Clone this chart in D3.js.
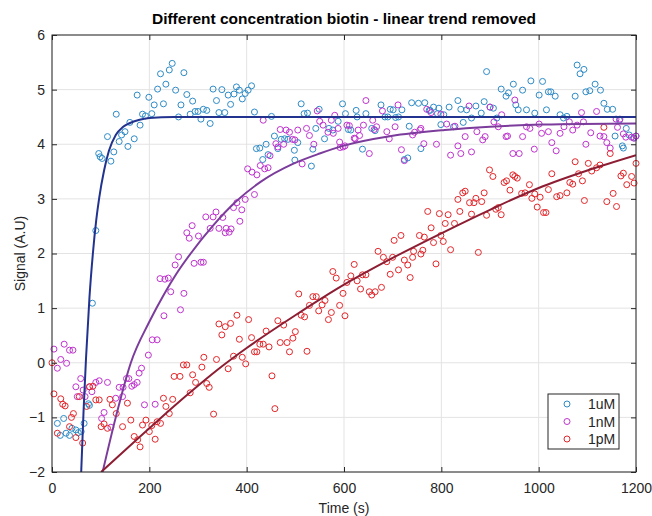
<!DOCTYPE html>
<html>
<head>
<meta charset="utf-8">
<script src="https://cdn.jsdelivr.net/npm/d3@7"></script>
<style>
  body { margin: 0; background: #fff; }
  svg { font-family: "Liberation Sans", Arial, Helvetica, sans-serif; }
</style>
</head>
<body>
<div id="chart"></div>
<script>
// values (time in s, signal in A.U)
const seriesNames = ["1uM", "1nM", "1pM"];

const uMTime = [11,17,24,29,36,41,49,54,60,66,75,77,83,90,96,99,103,114,121,127,132,138,143,150,156,160,169,175,181,186,192,199,205,210,217,223,229,234,241,247,254,260,265,271,277,284,289,294,300,306,311,318,325,331,338,343,349,355,362,367,374,379,385,391,397,403,410,416,420,427,433,440,444,451,457,464,471,478,485,498,499,505,512,518,525,533,536,542,549,560,569,577,588,597,603,609,614,625,627,638,645,657,664,676,684,690,695,701,706,712,719,724,731,734,739,753,758,766,775,777,784,792,795,799,805,816,825,834,840,845,852,862,871,882,888,893,900,907,914,923,933,938,948,953,958,967,975,984,992,1001,1008,1016,1020,1025,1034,1044,1051,1058,1075,1079,1085,1093,1097,1105,1116,1127,1134,1141,1152,1157,1166,1172,1174,1180,1186,1195,1200];
const uMSignal = [-1.11,-1.33,-1.02,-1.29,-1.33,-1.20,-1.23,-1.28,-1.26,-1.11,-0.75,-0.78,1.09,2.42,3.83,3.77,3.74,4.14,3.69,3.86,4.55,4.05,4.17,4.23,3.96,4.40,4.10,4.90,4.35,4.55,4.52,4.86,4.56,4.72,5.01,5.29,4.74,5.10,5.36,5.48,4.99,4.50,4.72,5.31,4.91,4.55,4.79,4.60,4.60,4.46,4.64,4.62,4.38,5.01,4.80,4.58,5.00,4.58,4.90,4.73,4.92,5.05,4.99,4.83,4.93,4.99,5.07,4.59,3.92,3.93,3.72,4.00,3.81,4.51,4.15,3.92,4.09,4.10,4.09,3.89,3.71,4.03,4.74,4.56,4.57,3.60,3.91,4.29,4.64,4.10,4.29,4.26,4.42,4.74,4.56,4.27,4.26,4.62,4.50,3.91,4.56,4.29,4.25,4.72,4.50,4.50,4.64,4.63,4.49,4.50,4.63,3.72,3.75,4.33,4.76,4.75,3.92,4.76,4.62,4.62,4.68,4.56,4.66,4.36,4.54,4.68,4.32,4.80,4.64,4.40,4.63,4.48,4.70,4.57,4.78,5.33,4.68,4.66,4.48,5.01,4.88,4.94,5.10,4.72,4.63,4.99,4.63,5.16,4.57,4.90,5.15,4.63,4.96,4.96,4.88,4.54,4.48,4.51,4.88,5.45,5.29,5.37,4.96,4.98,5.10,4.99,4.75,4.64,4.64,4.15,4.44,3.97,3.93,4.29,4.17,4.12,4.15];

const nMTime = [4,11,18,25,30,36,43,49,52,59,64,68,77,82,90,97,102,107,114,121,131,138,145,146,153,158,164,169,175,179,184,190,198,206,212,216,222,230,232,239,244,253,260,264,271,277,282,288,292,301,306,311,316,325,331,337,343,351,356,358,364,368,373,380,386,390,397,402,411,416,421,428,434,437,444,448,460,464,469,476,481,488,494,499,505,514,523,529,538,545,550,557,567,574,578,581,588,591,592,598,602,606,611,621,623,629,632,640,645,652,659,662,667,679,688,693,705,711,718,724,741,745,756,758,764,770,779,790,799,811,819,828,834,840,849,857,862,873,885,890,900,908,917,924,933,936,947,951,960,967,975,982,991,1001,1006,1020,1027,1036,1044,1052,1063,1070,1079,1088,1092,1097,1107,1119,1126,1134,1140,1147,1159,1162,1167,1174,1179,1191,1196,1200];
const nMSignal = [0.25,-0.10,0.06,0.34,-0.01,0.23,0.23,-0.44,-0.62,-0.29,-0.50,-0.62,-0.44,-0.53,-0.36,-0.33,-1.02,-0.91,-0.36,-1.18,-0.65,-0.45,-0.62,-0.45,-0.29,-0.29,-0.43,-0.40,-0.36,-0.19,-0.10,-0.77,0.14,0.42,-0.76,0.42,1.54,0.86,1.53,1.55,1.30,1.79,1.94,0.97,1.27,2.38,2.28,2.51,1.82,2.32,1.84,1.84,2.67,2.46,2.67,2.76,2.46,2.66,2.38,2.46,2.39,2.45,2.84,2.93,2.59,2.80,2.99,3.55,3.49,3.08,3.44,3.61,4.44,3.55,3.57,3.79,4.01,3.95,4.27,4.00,4.26,4.22,4.09,4.08,4.26,3.64,4.29,4.16,4.00,4.61,4.42,4.35,4.22,4.44,4.20,4.53,4.29,4.04,3.94,3.95,3.97,4.35,4.34,4.11,4.10,4.26,4.16,4.35,4.80,3.83,4.44,4.27,4.32,4.61,4.23,4.10,4.32,4.72,3.90,3.70,4.17,4.22,4.26,4.29,4.01,4.64,4.58,4.00,4.55,4.37,3.80,4.33,3.97,3.83,4.14,4.70,3.86,4.23,4.08,4.14,4.68,4.41,4.32,4.54,4.14,4.15,3.83,4.81,3.83,4.14,4.32,4.29,3.91,4.37,4.20,4.23,4.03,3.88,4.20,4.32,4.41,4.26,4.35,4.58,4.41,4.00,4.21,4.60,4.15,4.14,4.03,3.93,4.46,4.31,4.46,4.19,4.13,4.13,4.11,4.15];

const pMTime = [0,4,11,18,22,27,36,40,44,49,56,63,71,77,84,90,97,101,107,114,119,124,132,145,155,162,169,176,181,186,193,200,205,212,216,223,229,234,241,248,251,263,270,277,284,289,295,308,312,318,323,332,338,343,349,356,362,367,373,380,385,391,398,404,410,416,421,427,434,440,446,452,458,464,469,476,483,488,495,500,507,512,519,524,529,536,543,548,555,561,568,574,577,584,591,598,602,606,614,621,627,634,638,645,652,657,664,670,677,681,688,695,700,703,712,717,724,731,736,741,743,755,758,762,765,772,779,784,789,796,799,804,808,814,819,827,834,838,844,849,858,862,867,871,876,883,888,893,899,906,912,917,923,929,934,941,947,951,956,965,972,981,986,992,997,1003,1010,1015,1020,1027,1037,1044,1058,1064,1070,1075,1082,1090,1094,1102,1109,1119,1126,1134,1140,1147,1153,1160,1169,1174,1181,1191,1196,1200];
const pMSignal = [0.00,-0.57,-1.29,-0.66,-0.76,-0.79,-1.17,-1.00,-0.93,-1.37,-0.62,-1.47,-0.80,-0.44,-0.43,-0.68,-0.68,-1.17,-1.12,-1.20,-0.67,-0.77,-0.93,-1.17,-0.74,-1.05,-1.35,-1.41,-1.54,-1.14,-1.05,-1.26,-1.15,-1.40,-1.08,-1.11,-0.65,-0.80,-0.93,-0.67,-0.25,-0.25,-0.04,-0.04,-0.55,-0.22,-0.36,-0.08,0.10,-0.38,-0.45,-0.94,0.06,0.71,0.51,0.66,-0.11,0.72,0.12,0.87,0.43,0.10,-0.02,0.79,0.46,0.20,0.20,0.34,0.34,0.58,0.29,-0.24,-0.84,0.77,0.37,0.69,0.37,0.20,0.45,0.57,1.26,0.87,0.84,0.21,1.05,1.21,1.21,0.95,1.06,1.14,0.79,0.92,1.67,1.55,1.05,1.27,0.86,1.47,1.59,1.80,1.50,1.35,1.61,1.61,1.30,1.24,1.30,2.04,1.38,1.93,1.85,1.62,1.93,2.24,1.70,2.33,1.88,1.79,1.56,1.93,2.04,2.33,1.99,2.06,2.30,2.77,2.47,2.20,1.81,2.73,2.33,2.22,2.55,2.71,2.07,2.55,2.99,2.77,3.11,3.14,2.93,2.72,2.93,3.01,2.02,2.95,3.11,2.70,3.53,3.41,2.81,2.84,2.71,3.30,3.33,3.16,3.44,3.41,3.38,3.10,3.11,3.26,3.01,3.09,2.85,3.03,2.75,2.75,3.17,3.46,3.04,3.06,3.11,3.30,3.27,3.68,3.46,3.33,2.97,3.65,3.51,3.57,3.62,4.31,2.95,3.83,3.10,2.86,3.42,3.47,3.26,3.41,3.29,3.65];

// fitted curves, sampled off the figure
const uMFitTime = [60,65,70,77,84,91,97,107,117,131,145,158,180,200,250,1200];
const uMFitSignal = [-2,-0.85,0.1,1.2,2.0,2.62,3.02,3.52,3.88,4.17,4.31,4.38,4.45,4.48,4.5,4.5];
const nMFitTime = [104,131,162,200,230,255,285,330,378,430,495,550,598,697,807,900,1009,1200];
const nMFitSignal = [-2,-1,0,0.75,1.25,1.62,2.0,2.5,2.95,3.32,3.64,3.83,3.97,4.15,4.26,4.32,4.36,4.38];
const pMFitTime = [101,150,200,250,300,350,400,500,600,700,800,900,1000,1100,1200];
const pMFitSignal = [-2,-1.6,-1.2,-0.8,-0.42,-0.06,0.27,0.87,1.43,1.92,2.37,2.8,3.2,3.52,3.8];

const xTicks = [0,200,400,600,800,1000,1200];
const yTicks = [-2,-1,0,1,2,3,4,5,6];

const markerColors = ["#2e8bc6", "#bf33cf", "#e3262a"];
const lineColors = ["#22338f", "#7c3c9c", "#8d1d33"];

const W = 652, H = 516;
const plot = {left: 52, right: 636, top: 35, bottom: 472};

const svg = d3.select("#chart").append("svg")
    .attr("width", W).attr("height", H);

const x = d3.scaleLinear().domain([0, 1200]).range([plot.left, plot.right]);
const y = d3.scaleLinear().domain([-2, 6]).range([plot.bottom, plot.top]);

// grid
svg.append("g").selectAll("line").data(xTicks).join("line")
    .attr("x1", d => x(d)).attr("x2", d => x(d))
    .attr("y1", plot.top).attr("y2", plot.bottom)
    .attr("stroke", "#e3e3e3").attr("stroke-width", 1);
svg.append("g").selectAll("line").data(yTicks).join("line")
    .attr("x1", plot.left).attr("x2", plot.right)
    .attr("y1", d => y(d)).attr("y2", d => y(d))
    .attr("stroke", "#e3e3e3").attr("stroke-width", 1);

const points = (ts, ys) => ts.map((t, i) => ({t, v: ys[i]}));
const data = [
    points(uMTime, uMSignal),
    points(nMTime, nMSignal),
    points(pMTime, pMSignal)
];
const fits = [
    points(uMFitTime, uMFitSignal),
    points(nMFitTime, nMFitSignal),
    points(pMFitTime, pMFitSignal)
];

// scatter (drawn in series order so red ends on top)
data.forEach((pts, i) => {
    svg.append("g").selectAll("circle").data(pts).join("circle")
        .attr("cx", d => x(d.t)).attr("cy", d => y(d.v))
        .attr("r", 3)
        .attr("fill", "none")
        .attr("stroke", markerColors[i])
        .attr("stroke-width", 1);
});

svg.append("clipPath").attr("id", "clip").append("rect")
    .attr("x", plot.left).attr("y", plot.top)
    .attr("width", plot.right - plot.left).attr("height", plot.bottom - plot.top);

const line = d3.line().x(d => x(d.t)).y(d => y(d.v)).curve(d3.curveMonotoneX);
fits.forEach((pts, i) => {
    svg.append("path").datum(pts)
        .attr("clip-path", "url(#clip)")
        .attr("d", line)
        .attr("fill", "none")
        .attr("stroke", lineColors[i])
        .attr("stroke-width", 2);
});

// axes, ticks inside like matlab
const axisColor = "#262626";
const styleAxis = g => {
    g.select(".domain").remove();
    g.selectAll("line").attr("stroke", axisColor);
    g.selectAll("text").attr("fill", axisColor).style("font-size", "14px");
};
svg.append("g").attr("transform", `translate(0,${plot.bottom})`)
    .call(d3.axisBottom(x).tickValues(xTicks).tickSizeInner(-5).tickSizeOuter(0).tickPadding(11).tickFormat(d3.format("d")))
    .call(styleAxis);
svg.append("g").attr("transform", `translate(0,${plot.top})`)
    .call(d3.axisTop(x).tickValues(xTicks).tickSizeInner(-5).tickSizeOuter(0).tickFormat(""))
    .call(styleAxis);
svg.append("g").attr("transform", `translate(${plot.left},0)`)
    .call(d3.axisLeft(y).tickValues(yTicks).tickSizeInner(-5).tickSizeOuter(0).tickPadding(7).tickFormat(d3.format("d")))
    .call(styleAxis);
svg.append("g").attr("transform", `translate(${plot.right},0)`)
    .call(d3.axisRight(y).tickValues(yTicks).tickSizeInner(-5).tickSizeOuter(0).tickFormat(""))
    .call(styleAxis);

svg.append("rect")
    .attr("x", plot.left).attr("y", plot.top)
    .attr("width", plot.right - plot.left).attr("height", plot.bottom - plot.top)
    .attr("fill", "none").attr("stroke", axisColor).attr("stroke-width", 1);

// titles
svg.append("text")
    .attr("x", (plot.left + plot.right) / 2).attr("y", 24)
    .attr("text-anchor", "middle")
    .style("font-size", "15.5px").style("font-weight", "bold").attr("fill", "#000")
    .text("Different concentration biotin - linear trend removed");
svg.append("text")
    .attr("x", (plot.left + plot.right) / 2).attr("y", 513)
    .attr("text-anchor", "middle")
    .style("font-size", "14px").attr("fill", axisColor)
    .text("Time (s)");
svg.append("text")
    .attr("transform", `translate(25,${(plot.top + plot.bottom) / 2}) rotate(-90)`)
    .attr("text-anchor", "middle")
    .style("font-size", "14px").attr("fill", axisColor)
    .text("Signal (A.U)");

// legend
const legend = svg.append("g").attr("transform", "translate(548,394)");
legend.append("rect")
    .attr("width", 71).attr("height", 55)
    .attr("fill", "#fff").attr("stroke", axisColor).attr("stroke-width", 1);
seriesNames.forEach((name, i) => {
    const row = legend.append("g").attr("transform", `translate(0,${10 + i * 17.5})`);
    row.append("circle").attr("cx", 19).attr("cy", 0).attr("r", 3)
        .attr("fill", "none").attr("stroke", markerColors[i]).attr("stroke-width", 1);
    row.append("text").attr("x", 40).attr("y", 5)
        .style("font-size", "14px").attr("fill", axisColor)
        .text(name);
});
</script>
</body>
</html>
